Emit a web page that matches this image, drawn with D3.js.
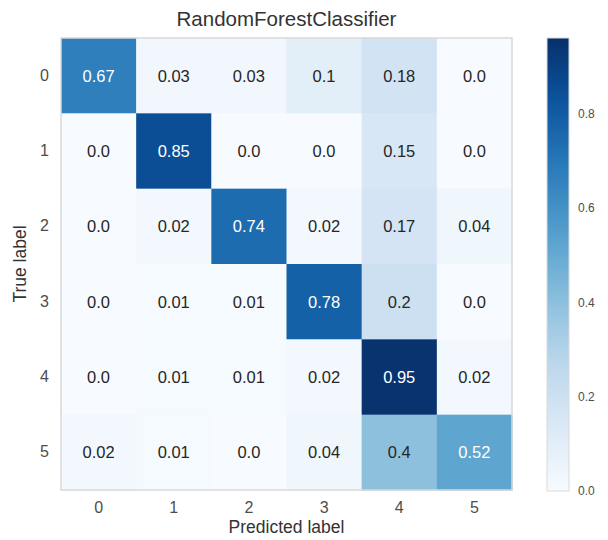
<!doctype html>
<html>
<head>
<meta charset="utf-8"/>
<title>RandomForestClassifier</title>
<script src="https://d3js.org/d3.v7.min.js"></script>
<style>
body { margin: 0; background: #fff; }
text { font-family: "Liberation Sans", Arial, sans-serif; }
</style>
</head>
<body>
<script type="text/javascript">
// class labels (rows = true, cols = predicted)
var classes = ["0", "1", "2", "3", "4", "5"];

// normalised confusion matrix, one array per true label
var row0 = [0.67, 0.03, 0.03, 0.1, 0.18, 0.0];
var row1 = [0.0, 0.85, 0.0, 0.0, 0.15, 0.0];
var row2 = [0.0, 0.02, 0.74, 0.02, 0.17, 0.04];
var row3 = [0.0, 0.01, 0.01, 0.78, 0.2, 0.0];
var row4 = [0.0, 0.01, 0.01, 0.02, 0.95, 0.02];
var row5 = [0.02, 0.01, 0.0, 0.04, 0.4, 0.52];
var rows = [row0, row1, row2, row3, row4, row5];

var colorTicks = [0.0, 0.2, 0.4, 0.6, 0.8];
var colorMax = 0.96;

var W = 608, H = 540;
var svg = d3.select("body").append("svg")
    .attr("width", W)
    .attr("height", H);

// plot box (window.top is reserved, so use m* names)
var mLeft = 61, mRight = 512, mTop = 38, mBottom = 490;

var x = d3.scaleBand().domain(classes).range([mLeft, mRight]);
var y = d3.scaleBand().domain(classes).range([mTop, mBottom]);
var color = d3.scaleSequential(d3.interpolateBlues).domain([0, colorMax]);

var maxVal = d3.max(rows, function(r){ return d3.max(r); });
var thresh = maxVal / 2;

function fmt(v) {
    return Number.isInteger(Math.round(v * 100) / 10) ? v.toFixed(1) : String(v);
}

var cells = [];
rows.forEach(function(r, i){
    r.forEach(function(v, j){
        cells.push({t: classes[i], p: classes[j], v: v});
    });
});

// cells
svg.selectAll("rect.cell")
    .data(cells)
    .enter()
  .append("rect")
    .attr("class", "cell")
    .attr("x", function(d){ return x(d.p); })
    .attr("y", function(d){ return y(d.t); })
    .attr("width", x.bandwidth() + 0.5)
    .attr("height", y.bandwidth() + 0.5)
    .attr("fill", function(d){ return color(d.v); });

// frame
svg.append("rect")
    .attr("x", mLeft).attr("y", mTop)
    .attr("width", mRight - mLeft).attr("height", mBottom - mTop)
    .attr("fill", "none")
    .attr("stroke", "#d9d9d9")
    .attr("stroke-width", 1.5);

// annotations
svg.selectAll("text.val")
    .data(cells)
    .enter()
  .append("text")
    .attr("class", "val")
    .attr("x", function(d){ return x(d.p) + x.bandwidth() / 2; })
    .attr("y", function(d){ return y(d.t) + y.bandwidth() / 2; })
    .attr("text-anchor", "middle")
    .attr("dominant-baseline", "central")
    .attr("font-size", 16.5)
    .attr("fill", function(d){ return d.v > thresh ? "#ffffff" : "#262626"; })
    .text(function(d){ return fmt(d.v); });

// axes
var xAxis = svg.append("g")
    .attr("transform", "translate(0," + mBottom + ")")
    .call(d3.axisBottom(x).tickSize(0).tickPadding(12));
var yAxis = svg.append("g")
    .attr("transform", "translate(" + mLeft + ",0)")
    .call(d3.axisLeft(y).tickSize(0).tickPadding(12));
[xAxis, yAxis].forEach(function(a){
    a.select(".domain").remove();
    a.selectAll("text")
        .attr("font-size", 16)
        .attr("fill", "#4d4d4d")
        .style("font-family", "'Liberation Sans', Arial, sans-serif");
});

// titles
svg.append("text")
    .attr("x", (mLeft + mRight) / 2)
    .attr("y", 26)
    .attr("text-anchor", "middle")
    .attr("font-size", 20.5)
    .attr("fill", "#333")
    .text("RandomForestClassifier");

svg.append("text")
    .attr("x", (mLeft + mRight) / 2)
    .attr("y", 533)
    .attr("text-anchor", "middle")
    .attr("font-size", 17.5)
    .attr("fill", "#333")
    .text("Predicted label");

svg.append("text")
    .attr("transform", "translate(26," + ((mTop + mBottom) / 2) + ") rotate(-90)")
    .attr("text-anchor", "middle")
    .attr("font-size", 17.5)
    .attr("fill", "#333")
    .text("True label");

// colorbar
var cbX = 547, cbW = 22;
var cy = d3.scaleLinear().domain([0, colorMax]).range([mBottom + 1, mTop]);

var defs = svg.append("defs");
var grad = defs.append("linearGradient")
    .attr("id", "cbgrad")
    .attr("x1", 0).attr("y1", 1).attr("x2", 0).attr("y2", 0);
d3.range(0, 1.0001, 0.05).forEach(function(t){
    grad.append("stop")
        .attr("offset", t)
        .attr("stop-color", color(t * colorMax));
});

svg.append("rect")
    .attr("x", cbX).attr("y", cy(colorMax))
    .attr("width", cbW).attr("height", cy(0) - cy(colorMax))
    .attr("fill", "url(#cbgrad)")
    .attr("stroke", "#d9d9d9")
    .attr("stroke-width", 1);

var cbAxis = svg.append("g")
    .attr("transform", "translate(" + (cbX + cbW) + ",0)")
    .call(d3.axisRight(cy).tickValues(colorTicks).tickSize(0).tickPadding(9)
        .tickFormat(function(d){ return d.toFixed(1); }));
cbAxis.select(".domain").remove();
cbAxis.selectAll("text")
    .attr("font-size", 12)
    .attr("fill", "#4d4d4d")
    .style("font-family", "'Liberation Sans', Arial, sans-serif");
</script>
</body>
</html>
